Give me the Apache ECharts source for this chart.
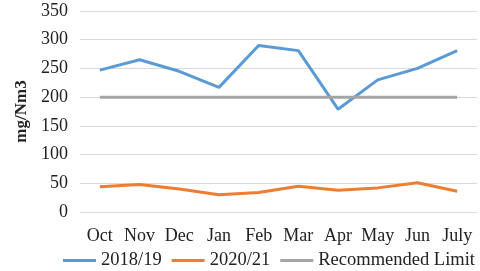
<!DOCTYPE html>
<html><head><meta charset="utf-8">
<script src="https://cdn.jsdelivr.net/npm/echarts@6/dist/echarts.min.js"></script>
<style>html,body{margin:0;padding:0;background:#fff}#c{width:480px;height:271px}</style>
</head><body><div id="c"></div>
<script>
const categories = ['Oct','Nov','Dec','Jan','Feb','Mar','Apr','May','Jun','July'];
const s2018 = [247, 265, 245, 217, 290, 281, 179, 230, 250, 281];
const s2020 = [44, 48, 40, 30, 34, 45, 38, 42, 51, 36];
const limit = [200, 200, 200, 200, 200, 200, 200, 200, 200, 200];
const yTicks = [0, 50, 100, 150, 200, 250, 300, 350];
const font = 'Liberation Serif, Times New Roman, serif';
const chart = echarts.init(document.getElementById('c'));
chart.setOption({
  animation: false,
  textStyle: {fontFamily: font},
  grid: {left: 80, right: 3, top: 11, bottom: 59},
  legend: {
    top: 251, left: 63, itemWidth: 33, itemHeight: 3, itemGap: 10,
    icon: 'rect', padding: 0,
    textStyle: {fontFamily: font, fontSize: 18.5, color: '#222'},
    data: ['2018/19', '2020/21', 'Recommended Limit']
  },
  xAxis: {
    type: 'category', data: categories, boundaryGap: true,
    axisLine: {show: false}, axisTick: {show: false},
    axisLabel: {fontFamily: font, fontSize: 18, color: '#222', margin: 15, interval: 0}
  },
  yAxis: {
    type: 'value', min: yTicks[0], max: yTicks[yTicks.length - 1], interval: 50,
    name: 'mg/Nm3', nameLocation: 'middle', nameGap: 47, nameRotate: 90,
    nameTextStyle: {fontFamily: font, fontSize: 17, fontWeight: 'bold', color: '#222'},
    axisLine: {show: false}, axisTick: {show: false},
    axisLabel: {fontFamily: font, fontSize: 18, color: '#222', margin: 12},
    splitLine: {lineStyle: {color: '#d9d9d9', width: 1}}
  },
  series: [
    {name: '2018/19', type: 'line', data: s2018, symbol: 'none', color: '#5B9BD5', lineStyle: {width: 3}},
    {name: '2020/21', type: 'line', data: s2020, symbol: 'none', color: '#ED7D31', lineStyle: {width: 3}},
    {name: 'Recommended Limit', type: 'line', data: limit, symbol: 'none', color: '#A5A5A5', lineStyle: {width: 3}}
  ]
});
</script></body></html>
